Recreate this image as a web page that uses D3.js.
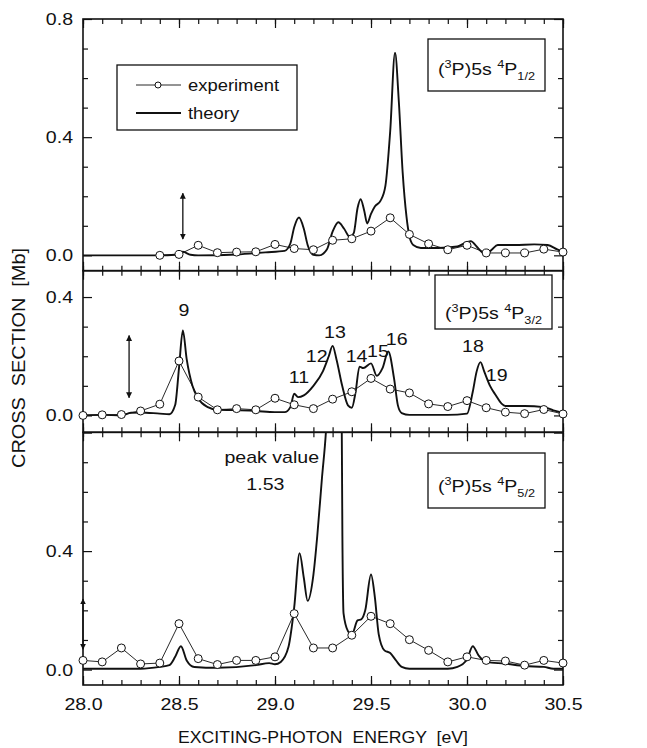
<!DOCTYPE html>
<html>
<head>
<meta charset="utf-8">
<script src="https://cdn.jsdelivr.net/npm/d3@7"></script>
<style>
  body { margin: 0; background: #fff; }
  svg text { font-family: "Liberation Sans", Arial, Helvetica, sans-serif; fill: #111; }
</style>
</head>
<body>
<div id="chart"></div>
<script>
// experiment is sampled every 0.1 eV
const expEnergy = [28.0, 28.1, 28.2, 28.3, 28.4, 28.5, 28.6, 28.7, 28.8, 28.9, 29.0, 29.1, 29.2,
                   29.3, 29.4, 29.5, 29.6, 29.7, 29.8, 29.9, 30.0, 30.1, 30.2, 30.3, 30.4, 30.5];

const expP12 = [null, null, null, null, 0.000, 0.003, 0.034, 0.009, 0.011, 0.012, 0.037, 0.023, 0.019,
                0.051, 0.056, 0.082, 0.127, 0.071, 0.039, 0.019, 0.034, 0.008, 0.008, 0.008, 0.021, 0.011];
const expP32 = [0.000, 0.002, 0.003, 0.015, 0.038, 0.184, 0.062, 0.019, 0.023, 0.019, 0.058, 0.036, 0.023,
                0.055, 0.080, 0.125, 0.089, 0.076, 0.039, 0.030, 0.050, 0.026, 0.011, 0.006, 0.020, 0.005];
const expP52 = [0.031, 0.026, 0.073, 0.019, 0.022, 0.155, 0.037, 0.017, 0.031, 0.031, 0.043, 0.189, 0.073,
                0.073, 0.116, 0.180, 0.155, 0.101, 0.065, 0.026, 0.043, 0.031, 0.029, 0.015, 0.031, 0.022];

// theory curves, [energy eV, cross section Mb]
const theoryP12 = [
  [28.00, 0.000], [28.40, 0.000], [28.48, 0.002], [28.52, 0.012], [28.56, 0.002], [28.60, 0.000],
  [28.80, 0.003], [28.95, 0.010], [29.05, 0.015], [29.08, 0.040], [29.10, 0.095], [29.125, 0.128],
  [29.15, 0.090], [29.17, 0.035], [29.20, 0.002], [29.23, 0.000], [29.27, 0.020], [29.30, 0.080],
  [29.33, 0.112], [29.36, 0.090], [29.39, 0.062], [29.41, 0.075], [29.43, 0.160], [29.446, 0.190],
  [29.465, 0.150], [29.48, 0.108], [29.50, 0.140], [29.52, 0.165], [29.55, 0.185], [29.575, 0.235],
  [29.60, 0.420], [29.625, 0.686], [29.645, 0.520], [29.665, 0.280], [29.685, 0.130], [29.70, 0.065],
  [29.72, 0.035], [29.76, 0.025], [29.85, 0.025], [29.95, 0.030], [30.00, 0.045], [30.02, 0.048],
  [30.05, 0.030], [30.08, 0.010], [30.10, 0.005], [30.13, 0.020], [30.16, 0.035], [30.25, 0.035],
  [30.35, 0.037], [30.42, 0.035], [30.47, 0.020], [30.50, 0.012]
];
const theoryP32 = [
  [28.00, 0.001], [28.10, 0.002], [28.20, 0.000], [28.25, 0.009], [28.30, 0.010], [28.40, 0.006],
  [28.45, 0.004], [28.48, 0.035], [28.50, 0.160], [28.52, 0.287], [28.54, 0.190], [28.57, 0.100],
  [28.60, 0.057], [28.65, 0.028], [28.70, 0.019], [28.80, 0.018], [28.90, 0.015], [29.00, 0.011],
  [29.05, 0.011], [29.08, 0.028], [29.10, 0.073], [29.12, 0.062], [29.15, 0.068], [29.20, 0.100],
  [29.25, 0.150], [29.28, 0.200], [29.30, 0.235], [29.32, 0.190], [29.35, 0.100], [29.38, 0.034],
  [29.40, 0.026], [29.42, 0.080], [29.44, 0.165], [29.46, 0.160], [29.50, 0.176], [29.53, 0.134],
  [29.56, 0.160], [29.59, 0.216], [29.62, 0.125], [29.64, 0.034], [29.66, 0.008], [29.70, 0.002],
  [29.90, 0.002], [30.00, 0.006], [30.03, 0.080], [30.05, 0.148], [30.07, 0.180], [30.09, 0.148],
  [30.12, 0.100], [30.15, 0.068], [30.18, 0.040], [30.20, 0.032], [30.30, 0.032], [30.40, 0.028],
  [30.45, 0.017], [30.50, 0.009]
];
const theoryP52 = [
  [28.00, 0.003], [28.30, 0.003], [28.40, 0.009], [28.45, 0.015], [28.48, 0.043], [28.51, 0.079],
  [28.54, 0.031], [28.58, 0.009], [28.70, 0.006], [28.90, 0.015], [28.97, 0.022], [29.00, 0.018],
  [29.03, 0.026], [29.07, 0.076], [29.10, 0.210], [29.128, 0.393], [29.15, 0.310], [29.17, 0.232],
  [29.20, 0.320], [29.22, 0.450], [29.245, 0.650], [29.265, 0.800], [29.285, 1.050], [29.30, 1.350],
  [29.318, 1.530], [29.335, 1.350], [29.346, 1.000], [29.351, 0.450], [29.357, 0.190], [29.38, 0.130],
  [29.40, 0.118], [29.43, 0.166], [29.45, 0.170], [29.47, 0.200], [29.50, 0.321], [29.52, 0.245],
  [29.54, 0.120], [29.57, 0.065], [29.60, 0.056], [29.63, 0.031], [29.66, 0.009], [29.70, 0.003],
  [29.90, 0.003], [29.95, 0.009], [30.00, 0.034], [30.03, 0.079], [30.06, 0.048], [30.10, 0.026],
  [30.20, 0.020], [30.30, 0.012], [30.40, 0.009], [30.45, 0.003], [30.50, 0.003]
];

// resonance numbers in the 4P3/2 panel, [label, energy, value]
const peakLabels = [
  ["9", 28.526, 0.336], ["11", 29.125, 0.110], ["12", 29.217, 0.182], ["13", 29.312, 0.263],
  ["14", 29.425, 0.182], ["15", 29.536, 0.198], ["16", 29.634, 0.238], ["18", 30.031, 0.216],
  ["19", 30.155, 0.118]
];

const xTickLabels = [28.0, 28.5, 29.0, 29.5, 30.0, 30.5];

const width = 647, height = 748;
const left = 83, right = 563;

const svg = d3.select("#chart").append("svg")
  .attr("width", width)
  .attr("height", height);

const x = d3.scaleLinear().domain([28.0, 30.5]).range([left, right]);

// arrow head for the double arrows
const defs = svg.append("defs");
defs.append("marker")
  .attr("id", "head")
  .attr("viewBox", "0 0 10 10")
  .attr("refX", 9).attr("refY", 5)
  .attr("markerWidth", 6).attr("markerHeight", 7)
  .attr("markerUnits", "userSpaceOnUse")
  .attr("orient", "auto-start-reverse")
  .append("path")
  .attr("d", "M0,0 L10,5 L0,10 Z")
  .attr("fill", "#111");

const panels = [
  { id: "p12", top: 19, bottom: 270.7, domain: [-0.052, 0.80], exp: expP12, theory: theoryP12,
    yLabels: [0.0, 0.4, 0.8], sub: "1/2", box: [428, 39, 117, 52], base: 75,
    arrow: [28.52, 0.055, 0.21] },
  { id: "p32", top: 270.7, bottom: 432.3, domain: [-0.057, 0.489], exp: expP32, theory: theoryP32,
    yLabels: [0.0, 0.4], sub: "3/2", box: [435, 275, 117, 54], base: 319,
    arrow: [28.24, 0.06, 0.27] },
  { id: "p52", top: 432.3, bottom: 685, domain: [-0.052, 0.801], exp: expP52, theory: theoryP52,
    yLabels: [0.0, 0.4], sub: "5/2", box: [428, 453, 117, 55], base: 492,
    arrow: [28.0, 0.069, 0.238] }
];

const minorX = d3.range(0, 26).map(i => 28 + i * 0.1);
const majorX = minorX.filter((d, i) => i % 5 === 0);

panels.forEach(p => {
  const y = d3.scaleLinear().domain(p.domain).range([p.bottom, p.top]);
  p.y = y;
  const g = svg.append("g");

  defs.append("clipPath").attr("id", "clip-" + p.id)
    .append("rect")
    .attr("x", left).attr("y", p.top)
    .attr("width", right - left).attr("height", p.bottom - p.top);

  // ticks, all pointing inwards
  const yTicks = d3.range(Math.ceil(p.domain[0] * 10), Math.floor(p.domain[1] * 10 + 0.01) + 1).map(i => i / 10);
  const minorY = yTicks.filter(d => Math.round(d * 10) % 4 !== 0);
  const majorY = yTicks.filter(d => Math.round(d * 10) % 4 === 0);

  const axes = [
    [d3.axisBottom(x).tickValues(minorX).tickSize(-5), p.bottom, 0],
    [d3.axisBottom(x).tickValues(majorX).tickSize(-9), p.bottom, 0],
    [d3.axisTop(x).tickValues(minorX).tickSize(-5), p.top, 0],
    [d3.axisTop(x).tickValues(majorX).tickSize(-9), p.top, 0],
    [d3.axisLeft(y).tickValues(minorY).tickSize(-5), 0, left],
    [d3.axisLeft(y).tickValues(majorY).tickSize(-9), 0, left],
    [d3.axisRight(y).tickValues(minorY).tickSize(-5), 0, right],
    [d3.axisRight(y).tickValues(majorY).tickSize(-9), 0, right]
  ];
  axes.forEach(([ax, ty, tx]) => {
    const a = g.append("g")
      .attr("transform", `translate(${tx},${ty})`)
      .call(ax.tickFormat(""));
    a.select(".domain").remove();
    a.selectAll("line").attr("stroke", "#111").attr("stroke-width", 1.2);
  });

  // y labels
  const yl = g.append("g")
    .attr("transform", `translate(${left},0)`)
    .call(d3.axisLeft(y).tickValues(p.yLabels).tickSize(0).tickPadding(10).tickFormat(d3.format(".1f")));
  yl.select(".domain").remove();
  yl.selectAll("text").attr("font-size", 17).attr("font-family", null);

  // frame
  g.append("rect")
    .attr("x", left).attr("y", p.top)
    .attr("width", right - left).attr("height", p.bottom - p.top)
    .attr("fill", "none").attr("stroke", "#111").attr("stroke-width", 1.6);

  // theory
  g.append("path")
    .datum(p.theory)
    .attr("clip-path", `url(#clip-${p.id})`)
    .attr("fill", "none")
    .attr("stroke", "#111")
    .attr("stroke-width", 1.9)
    .attr("stroke-linejoin", "round")
    .attr("d", d3.line().x(d => x(d[0])).y(d => y(d[1])).curve(d3.curveMonotoneX));

  // experiment
  const pts = expEnergy.map((e, i) => [e, p.exp[i]]).filter(d => d[1] !== null);
  g.append("path")
    .datum(pts)
    .attr("fill", "none")
    .attr("stroke", "#111")
    .attr("stroke-width", 0.9)
    .attr("d", d3.line().x(d => x(d[0])).y(d => y(d[1])));
  g.selectAll("circle")
    .data(pts)
    .enter().append("circle")
    .attr("cx", d => x(d[0]))
    .attr("cy", d => y(d[1]))
    .attr("r", 4)
    .attr("fill", "#fff")
    .attr("stroke", "#111")
    .attr("stroke-width", 1);

  // double arrow
  g.append("line")
    .attr("x1", x(p.arrow[0])).attr("x2", x(p.arrow[0]))
    .attr("y1", y(p.arrow[1])).attr("y2", y(p.arrow[2]))
    .attr("stroke", "#111").attr("stroke-width", 1.3)
    .attr("marker-start", "url(#head)")
    .attr("marker-end", "url(#head)");

  // state label box
  const [bx, by, bw, bh] = p.box;
  g.append("rect")
    .attr("x", bx).attr("y", by).attr("width", bw).attr("height", bh)
    .attr("fill", "#fff").attr("stroke", "#111").attr("stroke-width", 1.3);
  const t = g.append("text")
    .attr("class", "stretch")
    .attr("x", bx + bw / 2).attr("y", p.base)
    .attr("text-anchor", "middle")
    .attr("font-size", 17);
  t.append("tspan").text("(");
  t.append("tspan").attr("font-size", 11).attr("dy", -7).text("3");
  t.append("tspan").attr("dy", 7).text("P)5s ");
  t.append("tspan").attr("font-size", 11).attr("dy", -7).text("4");
  t.append("tspan").attr("dy", 7).text("P");
  t.append("tspan").attr("font-size", 11).attr("dy", 5).text(p.sub);
});

// legend in the top panel
const lg = svg.append("g");
lg.append("rect")
  .attr("x", 117).attr("y", 65).attr("width", 180).attr("height", 65)
  .attr("fill", "#fff").attr("stroke", "#111").attr("stroke-width", 1.3);
lg.append("line").attr("x1", 136).attr("x2", 181).attr("y1", 85).attr("y2", 85)
  .attr("stroke", "#111").attr("stroke-width", 0.9);
lg.append("circle").attr("cx", 158).attr("cy", 85).attr("r", 3)
  .attr("fill", "#fff").attr("stroke", "#111");
lg.append("line").attr("x1", 136).attr("x2", 181).attr("y1", 113).attr("y2", 113)
  .attr("stroke", "#111").attr("stroke-width", 1.9);
lg.append("text").attr("class", "stretch").attr("x", 188).attr("y", 91).attr("font-size", 16).text("experiment");
lg.append("text").attr("class", "stretch").attr("x", 188).attr("y", 119).attr("font-size", 16).text("theory");

// resonance numbers
const mid = panels[1];
svg.append("g").selectAll("text")
  .data(peakLabels)
  .enter().append("text")
  .attr("class", "stretch")
  .attr("x", d => x(d[1]))
  .attr("y", d => mid.y(d[2]))
  .attr("text-anchor", "middle")
  .attr("font-size", 17)
  .text(d => d[0]);

// peak value note in the 4P5/2 panel
const bot = panels[2];
svg.append("text").attr("class", "stretch")
  .attr("x", x(28.983)).attr("y", bot.y(0.698))
  .attr("text-anchor", "middle").attr("font-size", 17).text("peak value");
svg.append("text").attr("class", "stretch")
  .attr("x", x(28.95)).attr("y", bot.y(0.606))
  .attr("text-anchor", "middle").attr("font-size", 17).text("1.53");

// x tick labels under the bottom panel
const xl = svg.append("g")
  .attr("transform", `translate(0,${bot.bottom})`)
  .call(d3.axisBottom(x).tickValues(xTickLabels).tickSize(0).tickPadding(13).tickFormat(d3.format(".1f")));
xl.select(".domain").remove();
xl.selectAll("text").attr("font-size", 17).attr("font-family", null);

// axis titles
svg.append("text")
  .attr("x", 323).attr("y", 743)
  .attr("text-anchor", "middle")
  .attr("font-size", 17)
  .attr("textLength", 290).attr("lengthAdjust", "spacingAndGlyphs")
  .text("EXCITING-PHOTON  ENERGY  [eV]")
  .style("white-space", "pre");
svg.append("text")
  .attr("transform", "translate(25,358) rotate(-90)")
  .attr("text-anchor", "middle")
  .attr("font-size", 17.5)
  .attr("textLength", 220).attr("lengthAdjust", "spacingAndGlyphs")
  .text("CROSS  SECTION  [Mb]")
  .style("white-space", "pre");

// the printed font is wider than Arial, stretch the glyphs a little
svg.selectAll(".tick text, text.stretch").each(function() {
  const w = this.getComputedTextLength();
  this.setAttribute("textLength", (w * 1.15).toFixed(1));
  this.setAttribute("lengthAdjust", "spacingAndGlyphs");
});
</script>
</body>
</html>
